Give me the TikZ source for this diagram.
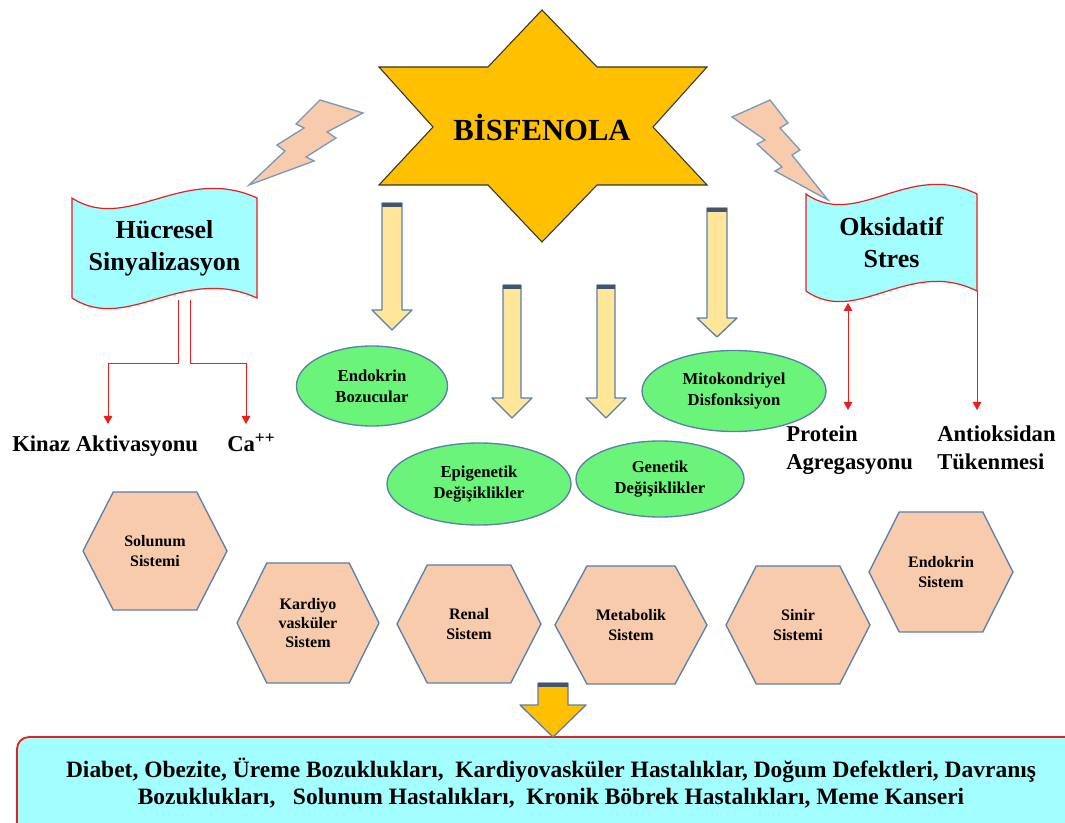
\documentclass[tikz,border=0pt]{standalone}
\usepackage{fontspec}
\setmainfont{Liberation Serif}
\usetikzlibrary{shapes.geometric,arrows.meta}
\definecolor{starY}{RGB}{255,192,0}
\definecolor{cyanF}{RGB}{163,255,255}
\definecolor{greenF}{RGB}{106,245,122}
\definecolor{peach}{RGB}{248,203,173}
\definecolor{steel}{RGB}{91,128,170}
\definecolor{paleY}{RGB}{255,230,153}
\definecolor{bandC}{RGB}{68,84,106}
\definecolor{redL}{RGB}{235,30,30}
\def\pxu{0.75pt}
\newcommand\blkarrow[7]{% cx ytop yhead ytip shafthalf headhalf fill
  \filldraw[fill=#7,draw=steel,line width=1pt,line join=round] (#1-#5,#2) -- (#1+#5,#2) -- (#1+#5,#3) -- (#1+#6,#3) -- (#1,#4) -- (#1-#6,#3) -- (#1-#5,#3) -- cycle;
  \fill[bandC] (#1-#5,#2) rectangle (#1+#5,#2+4);}
\newcommand\hexa[6]{% name cx cy hw hh text
  \filldraw[hexs] (#2-#4,#3) -- (#2-0.58*#4,#3-#5) -- (#2+0.58*#4,#3-#5) -- (#2+#4,#3) -- (#2+0.58*#4,#3+#5) -- (#2-0.58*#4,#3+#5) -- cycle;
  \node[hext] (#1) at (#2,#3) {#6};}
\newcommand\banner[6]{% name x0 y0 x1 h text
  \filldraw[bann] (#2,#3) .. controls ({#2+0.3*(#4-#2)},#3+36) and ({#2+0.6*(#4-#2)},#3-34) .. (#4,#3) -- (#4,#3+#5) .. controls ({#2+0.6*(#4-#2)},#3+#5-34) and ({#2+0.3*(#4-#2)},#3+#5+36) .. (#2,#3+#5) -- cycle;
  \node[banntext] (#1) at ({(#2+#4)/2},#3+#5/2) {#6};}
\begin{document}
\begin{tikzpicture}[x=0.75pt,y=-0.75pt,
  ell/.style={ellipse,draw=steel,fill=greenF,line width=1pt,inner sep=0pt,align=center,
    font=\bfseries\fontsize{12.5}{15.5}\selectfont},
  hexs/.style={fill=peach,draw=steel,line width=1pt},
  hext/.style={align=center,font=\bfseries\fontsize{12}{14.5}\selectfont},
  bann/.style={fill=cyanF,draw=redL,line width=0.9pt},
  banntext/.style={align=center,font=\bfseries\fontsize{19.5}{24}\selectfont},
  lbl/.style={align=left,inner sep=0pt,font=\bfseries\fontsize{17}{21}\selectfont},
  redarr/.style={draw=redL,line width=0.7pt,-{Triangle[width=6.5pt,length=6pt]}},
  bolt/.style={fill=peach,draw=steel!80,line width=1pt,line join=miter}]
\clip (0,0) rectangle (1065,823);
\fill[white] (0,0) rectangle (1065,823);

% star
\filldraw[fill=starY,draw=black!80,line width=0.8pt,line join=miter]
  (542,10) -- (597,67) -- (707,67) -- (653,127) -- (707,185) -- (597,185) -- (542,242)
  -- (488,185) -- (379,185) -- (433,127) -- (379,67) -- (488,67) -- cycle;
\node[font=\bfseries\fontsize{23}{26}\selectfont] (bpa) at (542,128) {BİSFENOLA};

% lightning bolts
\filldraw[bolt] (320,100) -- (363,113) -- (327,132) -- (336,138) -- (306,157) -- (314,161) -- (249,185)
  -- (285,151) -- (277,145) -- (304,128) -- (296,124) -- cycle;
\filldraw[bolt] (770,100) -- (788,123) -- (780,128) -- (800,150) -- (792,155) -- (828,200)
  -- (775,171) -- (782,167) -- (757,144) -- (765,140) -- (732,117) -- cycle;

% banners
\banner{hs}{72}{198}{257}{100}{Hücresel\\Sinyalizasyon}
\banner{os}{806}{194}{977}{97}{Oksidatif\\Stres}

% block arrows
\blkarrow{392}{203}{310}{330}{10}{20}{paleY}
\blkarrow{512}{285}{398}{418}{9}{20}{paleY}
\blkarrow{606}{285}{398}{418}{9}{20}{paleY}
\blkarrow{717}{208}{318}{337}{10}{20}{paleY}

% ellipses
\node[ell,minimum width=151*\pxu,minimum height=80*\pxu] (eb) at (372,386) {Endokrin\\Bozucular};
\node[ell,minimum width=184*\pxu,minimum height=81*\pxu] (md) at (734,391) {Mitokondriyel\\Disfonksiyon};
\node[ell,minimum width=184*\pxu,minimum height=82*\pxu] (ed) at (479,484) {Epigenetik\\Değişiklikler};
\node[ell,minimum width=168*\pxu,minimum height=76*\pxu] (gd) at (660,479) {Genetik\\Değişiklikler};

% labels
\node[lbl,anchor=base west] (kinaz) at (12,452) {Kinaz Aktivasyonu};
\node[lbl,anchor=base west] (ca) at (227,452) {Ca\textsuperscript{\fontsize{13}{13}\selectfont ++}};
\node[lbl,anchor=north west] (prot) at (786,426) {Protein\\Agregasyonu};
\node[lbl,anchor=north west] (anti) at (937,426) {Antioksidan\\Tükenmesi};

% red connectors
\coordinate (hb1) at (178,300);
\coordinate (hb2) at (190,300);
\coordinate (kt) at (108,424);
\coordinate (ct) at (246,424);
\draw[redarr] (hb1) -- ++(0,63) -| (kt);
\draw[redarr] (hb2) -- ++(0,63) -| (ct);
\coordinate (ob1) at (848,303);
\coordinate (ob2) at (977,291);
\draw[redarr,{Triangle[width=6.5pt,length=6pt]}-{Triangle[width=6.5pt,length=6pt]}] (ob1) -- (ob1 |- 0,410);
\draw[redarr] (ob2) -- (ob2 |- 0,410);

% hexagons
\hexa{h1}{155}{551}{72}{59}{Solunum\\Sistemi}
\hexa{h2}{308}{623}{71}{60}{Kardiyo\\vasküler\\Sistem}
\hexa{h3}{469}{624}{72}{59}{Renal\\Sistem}
\hexa{h4}{631}{625}{76}{59}{Metabolik\\Sistem}
\hexa{h5}{798}{625}{72}{59}{Sinir\\Sistemi}
\hexa{h6}{941}{572}{72}{60}{Endokrin\\Sistem}

% bottom box
\filldraw[fill=cyanF,draw=redL,line width=1.4pt,rounded corners=9pt] (17,737) rectangle (1090,850);
\blkarrow{553}{683}{705}{737}{15}{33}{starY}
\node[align=center,font=\bfseries\fontsize{17.6}{20}\selectfont] (res) at (551,783)
  {Diabet, Obezite, Üreme Bozuklukları,\ \ Kardiyovasküler Hastalıklar, Doğum Defektleri, Davranış\\
   Bozuklukları,\ \ \ Solunum Hastalıkları,\ \ Kronik Böbrek Hastalıkları, Meme Kanseri};
\end{tikzpicture}
\end{document}
